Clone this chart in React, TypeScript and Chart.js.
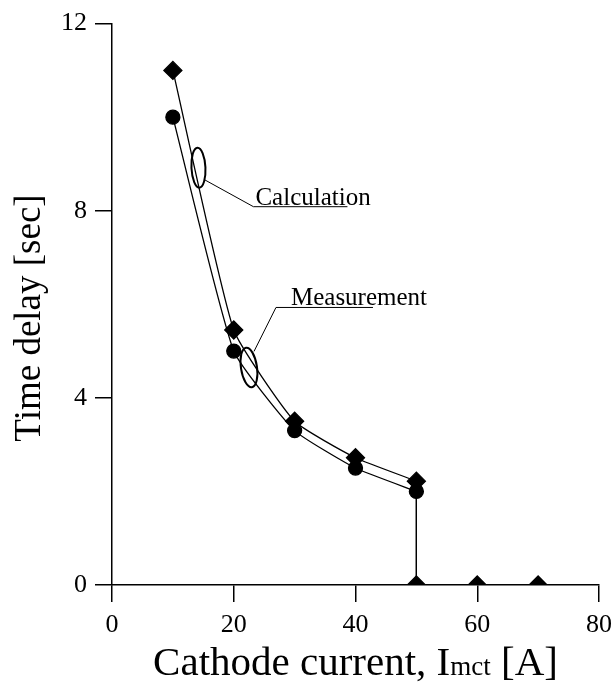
import React, { useEffect, useRef } from "react";
import { Chart, registerables } from "chart.js";

Chart.register(...registerables);

// Data
const calcX = [10, 20, 30, 40, 50, 50, 60, 70];
const calcY = [11.0, 5.45, 3.5, 2.72, 2.22, 0, 0, 0];
const measX = [10, 20, 30, 40, 50, 50];
const measY = [10.0, 5.0, 3.3, 2.5, 2.0, 0];
const xTicks = [0, 20, 40, 60, 80];
const yTicks = [0, 4, 8, 12];
const labelCalc = "Calculation";
const labelMeas = "Measurement";
const yTitle = "Time delay [sec]";
const xTitleMain = "Cathode current, I";
const xTitleSub = "mct";
const xTitleEnd = " [A]";
// annotation anchors (data coords)
const ellipseCalc = { x: 14.2, y: 8.92 };
const ellipseMeas = { x: 22.5, y: 4.65 };

const FONT = "'Liberation Serif', 'Times New Roman', serif";

const toPts = (xs: number[], ys: number[]) => xs.map((x, i) => ({ x, y: ys[i] }));
const dropIndex = (xs: number[]) => xs.indexOf(50);

const annotPlugin = {
  id: "annot",
  afterDatasetsDraw(chart: any) {
    const { ctx, scales } = chart;
    const xs = scales.x;
    const ys = scales.y;
    ctx.save();
    ctx.strokeStyle = "#000";
    ctx.fillStyle = "#000";
    ctx.textBaseline = "alphabetic";
    ctx.textAlign = "left";
    // ellipse 1
    const e1x = xs.getPixelForValue(ellipseCalc.x);
    const e1y = ys.getPixelForValue(ellipseCalc.y);
    ctx.lineWidth = 2;
    ctx.beginPath();
    ctx.ellipse(e1x, e1y, 7, 20, -0.05, 0, Math.PI * 2);
    ctx.stroke();
    ctx.lineWidth = 1;
    ctx.beginPath();
    ctx.moveTo(e1x + 6, e1y + 12);
    ctx.lineTo(e1x + 55, e1y + 39);
    ctx.lineTo(e1x + 149, e1y + 39);
    ctx.stroke();
    ctx.font = `25px ${FONT}`;
    ctx.fillText(labelCalc, e1x + 57, e1y + 37);

    // ellipse 2
    const e2x = xs.getPixelForValue(ellipseMeas.x);
    const e2y = ys.getPixelForValue(ellipseMeas.y);
    ctx.lineWidth = 2;
    ctx.beginPath();
    ctx.ellipse(e2x, e2y, 8, 20, -0.15, 0, Math.PI * 2);
    ctx.stroke();
    ctx.lineWidth = 1;
    ctx.beginPath();
    ctx.moveTo(e2x + 5, e2y - 16);
    ctx.lineTo(e2x + 27, e2y - 60);
    ctx.lineTo(e2x + 124, e2y - 60);
    ctx.stroke();
    ctx.fillText(labelMeas, e2x + 42, e2y - 62);

    // y title
    ctx.save();
    ctx.translate(30, 318);
    ctx.rotate(-Math.PI / 2);
    ctx.font = `37px ${FONT}`;
    ctx.textAlign = "center";
    ctx.textBaseline = "middle";
    ctx.fillText(yTitle, 0, 0);
    ctx.restore();

    // x title with smaller "mct"
    const cx = (chart.chartArea.left + chart.chartArea.right) / 2;
    const by = 675;
    const big = 41;
    const small = 27;
    ctx.font = `${big}px ${FONT}`;
    const w1 = ctx.measureText(xTitleMain).width;
    const w3 = ctx.measureText(xTitleEnd).width;
    ctx.font = `${small}px ${FONT}`;
    const w2 = ctx.measureText(xTitleSub).width;
    const total = w1 + w2 + w3;
    let sx = cx - total / 2;
    ctx.font = `${big}px ${FONT}`;
    ctx.fillText(xTitleMain, sx, by);
    sx += w1;
    ctx.font = `${small}px ${FONT}`;
    ctx.fillText(xTitleSub, sx, by);
    sx += w2;
    ctx.font = `${big}px ${FONT}`;
    ctx.fillText(xTitleEnd, sx, by);
    ctx.restore();
  },
};

export default function App() {
  const ref = useRef<HTMLCanvasElement>(null);
  useEffect(() => {
    if (!ref.current) return;
    const mi = dropIndex(measX);
    const ci = dropIndex(calcX);
    const lineBase = {
      borderColor: "#000",
      backgroundColor: "#000",
      borderWidth: 1.3,
    };
    const chart = new Chart(ref.current, {
      type: "line",
      data: {
        datasets: [
          {
            ...lineBase,
            label: labelMeas,
            data: toPts(measX.slice(0, mi + 1), measY.slice(0, mi + 1)),
            pointStyle: "circle",
            pointRadius: 7,
            tension: 0.15,
          },
          {
            ...lineBase,
            label: labelMeas + " drop",
            data: toPts(measX.slice(mi), measY.slice(mi)),
            pointRadius: 0,
            tension: 0,
          },
          {
            ...lineBase,
            label: labelCalc,
            data: toPts(calcX.slice(0, ci + 1), calcY.slice(0, ci + 1)),
            pointStyle: "rectRot",
            pointRadius: 9,
            tension: 0.15,
          },
          {
            ...lineBase,
            label: labelCalc + " zero",
            data: toPts(calcX.slice(ci), calcY.slice(ci)),
            pointStyle: "rectRot",
            pointRadius: [0, 9, 9, 9],
            tension: 0,
          },
        ],
      },
      options: {
        animation: false,
        responsive: false,
        layout: { padding: { left: 0, right: 17, top: 18, bottom: 0 } },
        plugins: { legend: { display: false }, tooltip: { enabled: false } },
        scales: {
          x: {
            type: "linear",
            min: 0,
            max: 80,
            afterFit: (s: any) => {
              s.height = 107;
              s.paddingRight = 0;
            },
            afterBuildTicks: (s: any) => {
              s.ticks = xTicks.map((v) => ({ value: v }));
            },
            grid: {
              display: true,
              drawOnChartArea: false,
              drawTicks: true,
              tickLength: 17,
              color: "#000",
              lineWidth: 1.5,
            },
            border: { display: true, color: "#000", width: 1.5 },
            ticks: {
              color: "#000",
              font: { family: FONT, size: 26 },
              padding: 8,
              maxRotation: 0,
            },
          },
          y: {
            type: "linear",
            min: 0,
            max: 12,
            afterFit: (s: any) => {
              s.width = 112;
            },
            afterBuildTicks: (s: any) => {
              s.ticks = yTicks.map((v) => ({ value: v }));
            },
            grid: {
              display: true,
              drawOnChartArea: false,
              drawTicks: true,
              tickLength: 17,
              color: "#000",
              lineWidth: 1.5,
            },
            border: { display: true, color: "#000", width: 1.5 },
            ticks: {
              color: "#000",
              font: { family: FONT, size: 26 },
              padding: 8,
            },
          },
        },
      },
      plugins: [annotPlugin],
    });
    return () => chart.destroy();
  }, []);
  return (
    <div style={{ position: "fixed", left: 0, top: 0, width: 616, height: 692, background: "#fff" }}>
      <canvas ref={ref} width={616} height={692} />
    </div>
  );
}
